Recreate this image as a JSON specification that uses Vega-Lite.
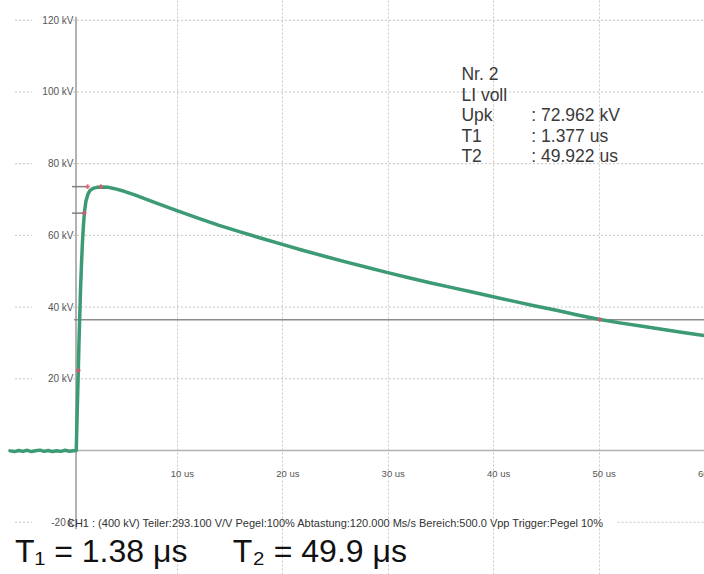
{
  "$schema": "https://vega.github.io/schema/vega-lite/v6.json",
  "width": 704,
  "height": 574,
  "autosize": {"type": "none"},
  "padding": 0,
  "background": "white",
  "config": {"view": {"stroke": null}},
  "data": {"values": [{}]},
  "datasets": {
    "wave": [
      {"t": -5.83, "v": -0.1}, {"t": -5.4, "v": -0.3}, {"t": -5.0, "v": 0.0}, {"t": -4.6, "v": -0.25},
      {"t": -4.2, "v": 0.05}, {"t": -3.8, "v": -0.3}, {"t": -3.4, "v": -0.05}, {"t": -3.0, "v": 0.1},
      {"t": -2.6, "v": -0.25}, {"t": -2.2, "v": 0.0}, {"t": -1.8, "v": -0.3}, {"t": -1.4, "v": -0.05},
      {"t": -1.0, "v": -0.25}, {"t": -0.6, "v": 0.05}, {"t": -0.2, "v": -0.2}, {"t": 0.2, "v": -0.05},
      {"t": 0.455, "v": 0},
      {"t": 0.52, "v": 8}, {"t": 0.59, "v": 16}, {"t": 0.645, "v": 22}, {"t": 0.71, "v": 30},
      {"t": 0.79, "v": 38}, {"t": 0.86, "v": 45}, {"t": 0.95, "v": 52}, {"t": 1.04, "v": 58},
      {"t": 1.14, "v": 63}, {"t": 1.23, "v": 66.5}, {"t": 1.37, "v": 69.5}, {"t": 1.56, "v": 71.5},
      {"t": 1.75, "v": 72.5}, {"t": 2.04, "v": 73.1}, {"t": 2.42, "v": 73.4}, {"t": 2.8, "v": 73.5},
      {"t": 3.5, "v": 73.4}, {"t": 4, "v": 73.1}, {"t": 5, "v": 72.3}, {"t": 6, "v": 71.3},
      {"t": 7, "v": 70.2}, {"t": 8, "v": 69.1}, {"t": 10, "v": 66.9}, {"t": 12, "v": 64.8},
      {"t": 14, "v": 62.8}, {"t": 16, "v": 61.0}, {"t": 18, "v": 59.2}, {"t": 20, "v": 57.5},
      {"t": 22, "v": 55.8}, {"t": 24, "v": 54.2}, {"t": 26, "v": 52.6}, {"t": 28, "v": 51.1},
      {"t": 30, "v": 49.6}, {"t": 32, "v": 48.2}, {"t": 34, "v": 46.8}, {"t": 36, "v": 45.5},
      {"t": 38, "v": 44.2}, {"t": 40, "v": 42.9}, {"t": 42, "v": 41.6}, {"t": 44, "v": 40.3},
      {"t": 46, "v": 39.1}, {"t": 48, "v": 37.8}, {"t": 50, "v": 36.6}, {"t": 52, "v": 35.6},
      {"t": 54, "v": 34.7}, {"t": 56, "v": 33.8}, {"t": 58, "v": 32.9}, {"t": 60, "v": 32.1}
    ],
    "marks": [
      {"t": 0.645, "v": 22.3}, {"t": 1.21, "v": 66.2}, {"t": 1.53, "v": 73.6},
      {"t": 2.8, "v": 73.6}, {"t": 50.1, "v": 36.5}
    ],
    "levels": [{"kv": 120}, {"kv": 100}, {"kv": 80}, {"kv": 60}, {"kv": 40}, {"kv": 20}],
    "levelsAll": [{"kv": 120}, {"kv": 100}, {"kv": 80}, {"kv": 60}, {"kv": 40}, {"kv": 20}, {"kv": -20}]
  },
  "layer": [
    {
      "data": {"name": "levels"},
      "mark": {"type": "rule", "color": "#c4c4c4", "strokeDash": [2, 2], "strokeWidth": 1},
      "encoding": {
        "y": {
          "field": "kv", "type": "quantitative", "title": null,
          "scale": {"domain": [-34.45, 125.66], "nice": false, "zero": false},
          "axis": {
            "orient": "left", "offset": -76, "values": [-20, 20, 40, 60, 80, 100, 120],
            "labelExpr": "datum.value == -20 ? '-20 k' : datum.value + ' kV'", "domain": false,
            "ticks": false, "tickSize": 0, "grid": false, "labelPadding": 3,
            "labelFont": "Liberation Sans", "labelFontSize": 10, "labelColor": "#555555",
            "labelFlush": false, "labelOverlap": false, "title": null
          }
        },
        "x": {
          "datum": 0.14, "type": "quantitative", "title": null,
          "scale": {"domain": [-6.78, 60.0], "nice": false, "zero": false},
          "axis": {
            "orient": "bottom", "offset": -123.5, "values": [10, 20, 30, 40, 50, 60],
            "labelExpr": "datum.value + ' us'", "domain": false, "ticks": false, "tickSize": 0,
            "grid": true, "gridColor": "#c8c8c8", "gridDash": [2, 2], "gridWidth": 1,
            "labelPadding": 18, "labelOffset": 5, "labelFont": "Liberation Sans", "labelFontSize": 9.5,
            "labelColor": "#555555", "labelFlush": false, "labelOverlap": false, "title": null
          }
        },
        "x2": {"datum": 60}
      }
    },
    {
      "data": {"name": "levelsAll"},
      "mark": {"type": "rule", "color": "#c4c4c4", "strokeDash": [2, 2], "strokeWidth": 1},
      "encoding": {
        "y": {"field": "kv", "type": "quantitative", "title": null},
        "x": {"datum": -5.35, "type": "quantitative", "title": null},
        "x2": {"datum": -3.75}
      }
    },
    {
      "mark": {"type": "rule", "color": "#c4c4c4", "strokeDash": [2, 2], "strokeWidth": 1},
      "encoding": {
        "y": {"datum": -20, "type": "quantitative", "title": null},
        "x": {"datum": 51.8, "type": "quantitative", "title": null},
        "x2": {"datum": 60}
      }
    },
    {
      "mark": {"type": "rule", "color": "#8a8a8a", "strokeWidth": 1.3},
      "encoding": {
        "x": {"datum": 0.43, "type": "quantitative", "title": null},
        "y": {"datum": 121, "type": "quantitative", "title": null},
        "y2": {"datum": -22}
      }
    },
    {
      "mark": {"type": "rule", "color": "#b0b0b0", "strokeWidth": 1.5},
      "encoding": {
        "y": {"datum": 0, "type": "quantitative", "title": null},
        "x": {"datum": 0.43, "type": "quantitative", "title": null},
        "x2": {"datum": 60}
      }
    },
    {
      "mark": {"type": "rule", "color": "#8c8c8c", "strokeWidth": 1.5},
      "encoding": {
        "y": {"datum": 36.5, "type": "quantitative", "title": null},
        "x": {"datum": 0.24, "type": "quantitative", "title": null},
        "x2": {"datum": 60}
      }
    },
    {
      "mark": {"type": "rule", "color": "#808080", "strokeWidth": 1.5},
      "encoding": {
        "y": {"datum": 73.6, "type": "quantitative", "title": null},
        "x": {"datum": 0.05, "type": "quantitative", "title": null},
        "x2": {"datum": 1.56}
      }
    },
    {
      "mark": {"type": "rule", "color": "#808080", "strokeWidth": 1.5},
      "encoding": {
        "y": {"datum": 66.2, "type": "quantitative", "title": null},
        "x": {"datum": 0.05, "type": "quantitative", "title": null},
        "x2": {"datum": 1.23}
      }
    },
    {
      "data": {"name": "wave"},
      "mark": {"type": "line", "color": "#3c9a74", "strokeWidth": 3.5, "strokeCap": "round", "strokeJoin": "round"},
      "encoding": {
        "x": {"field": "t", "type": "quantitative", "title": null},
        "y": {"field": "v", "type": "quantitative", "title": null},
        "order": {"field": "t", "type": "quantitative"}
      }
    },
    {
      "data": {"name": "marks"},
      "mark": {"type": "point", "shape": "cross", "filled": true, "size": 22, "color": "#e0566a", "opacity": 0.85},
      "encoding": {
        "x": {"field": "t", "type": "quantitative", "title": null},
        "y": {"field": "v", "type": "quantitative", "title": null}
      }
    },
    {
      "mark": {"type": "text", "align": "left", "baseline": "alphabetic", "font": "Liberation Sans", "fontSize": 17.5, "lineHeight": 20.5, "color": "#3a3a3a"},
      "encoding": {
        "x": {"datum": 36.99, "type": "quantitative", "title": null},
        "y": {"datum": 103.3, "type": "quantitative", "title": null},
        "text": {"value": ["Nr. 2", "LI voll", "Upk", "T1", "T2"]}
      }
    },
    {
      "mark": {"type": "text", "align": "left", "baseline": "alphabetic", "font": "Liberation Sans", "fontSize": 17.5, "lineHeight": 20.5, "color": "#3a3a3a"},
      "encoding": {
        "x": {"datum": 43.62, "type": "quantitative", "title": null},
        "y": {"datum": 91.86, "type": "quantitative", "title": null},
        "text": {"value": [": 72.962 kV", ": 1.377 us", ": 49.922 us"]}
      }
    },
    {
      "mark": {"type": "text", "align": "left", "baseline": "middle", "font": "Liberation Sans", "fontSize": 11, "color": "#333333"},
      "encoding": {
        "x": {"datum": -0.43, "type": "quantitative", "title": null},
        "y": {"datum": -20.5, "type": "quantitative", "title": null},
        "text": {"value": "CH1 : (400 kV)  Teiler:293.100 V/V  Pegel:100%  Abtastung:120.000 Ms/s  Bereich:500.0 Vpp  Trigger:Pegel 10%"}
      }
    },
    {
      "mark": {"type": "text", "align": "left", "baseline": "middle", "font": "Liberation Sans", "fontSize": 32, "color": "#111111"},
      "encoding": {
        "x": {"datum": -5.36, "type": "quantitative", "title": null},
        "y": {"datum": -28.3, "type": "quantitative", "title": null},
        "text": {"value": "T₁ = 1.38 μs"}
      }
    },
    {
      "mark": {"type": "text", "align": "left", "baseline": "middle", "font": "Liberation Sans", "fontSize": 32, "color": "#111111"},
      "encoding": {
        "x": {"datum": 15.31, "type": "quantitative", "title": null},
        "y": {"datum": -28.3, "type": "quantitative", "title": null},
        "text": {"value": "T₂ = 49.9 μs"}
      }
    }
  ]
}
